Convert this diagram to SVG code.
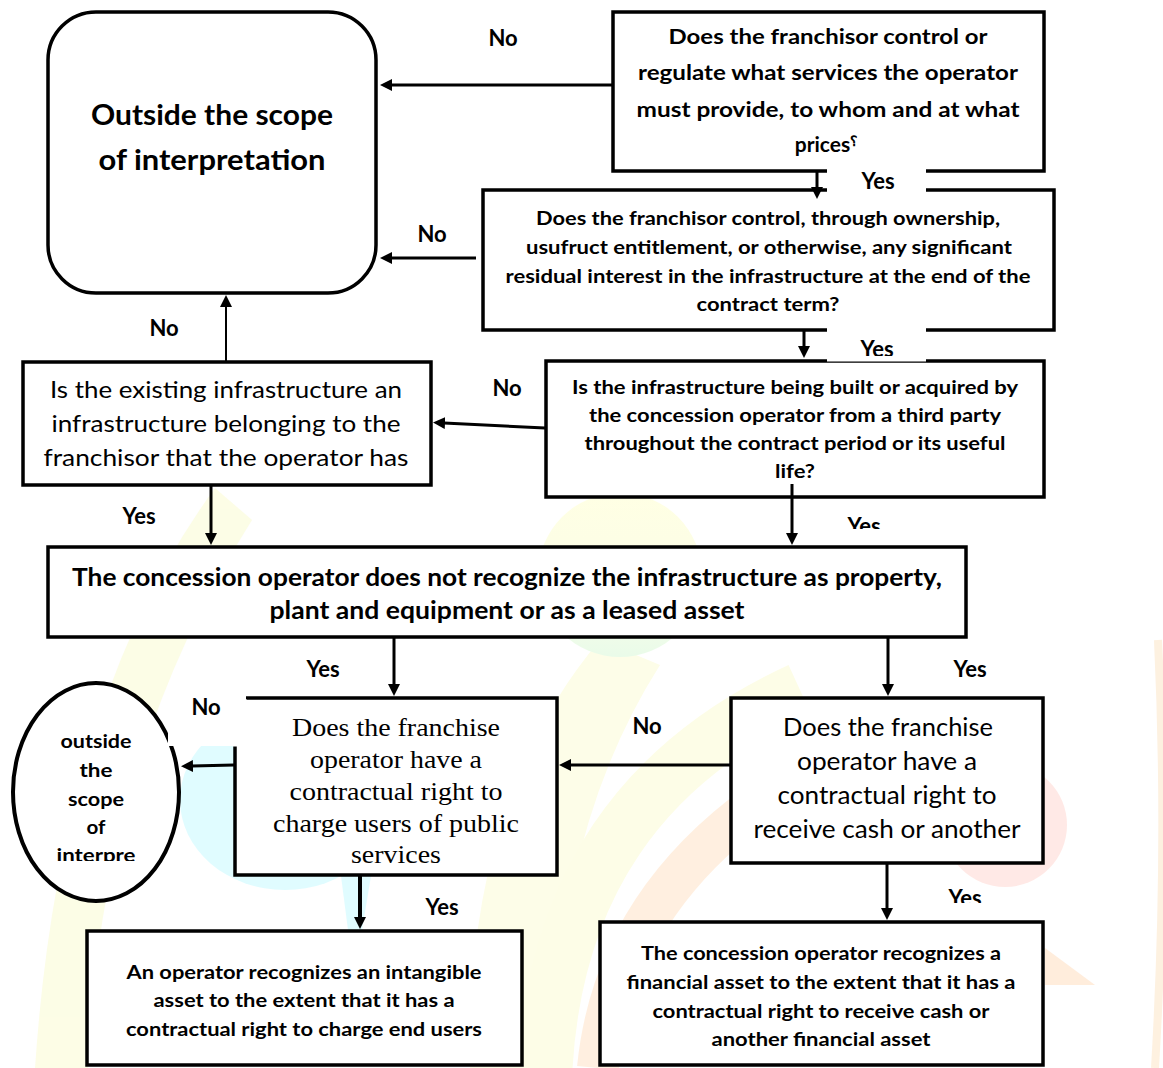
<svg xmlns="http://www.w3.org/2000/svg" width="1163" height="1068" viewBox="0 0 1163 1068">
<defs>
<style>
.box{fill:#fff;stroke:#000;stroke-width:3.5}
.conn{stroke:#000;stroke-width:3;fill:none;marker-end:url(#ah)}
.t{font-family:Lato,"Liberation Sans",sans-serif;text-anchor:middle;fill:#000}
.b{font-weight:bold}
.s{font-family:"Liberation Serif",serif;text-anchor:middle;fill:#000}
.lbl{font-family:Lato,"Liberation Sans",sans-serif;font-weight:bold;font-size:22px;text-anchor:middle;fill:#000}
.mask{fill:#fff;stroke:none}
</style>
<marker id="ah" markerWidth="12" markerHeight="12" refX="1" refY="6" orient="auto" markerUnits="userSpaceOnUse">
<path d="M0,0 L12,6 L0,12 Z" fill="#000"/>
</marker>
<linearGradient id="yg" x1="0" y1="0" x2="0" y2="1">
<stop offset="0" stop-color="#ffffd2"/>
<stop offset="0.55" stop-color="#fbfdd8"/>
<stop offset="1" stop-color="#dcfadc"/>
</linearGradient>
<clipPath id="c1"><rect x="820" y="330" width="110" height="26"/></clipPath>
<clipPath id="c2"><rect x="820" y="500" width="100" height="29"/></clipPath>
<clipPath id="c3"><rect x="920" y="880" width="100" height="23"/></clipPath>
<clipPath id="c4"><rect x="0" y="680" width="200" height="181"/></clipPath>
</defs>
<rect width="1163" height="1068" fill="#fff"/>

<g id="watermark" opacity="0.6">
<path d="M215,488 Q60,700 35,1068 L88,1068 Q100,760 252,520 Z" fill="#fbfcd6"/>
<path d="M600,640 Q465,800 470,1068 L555,1068 Q555,830 660,665 Z" fill="#fdfdd9"/>
<path d="M545,1068 Q560,800 800,690" stroke="#fdfdd8" stroke-width="55" fill="none"/>
<path d="M598,1068 Q620,850 880,735" stroke="#ffe6cc" stroke-width="42" fill="none"/>
<circle cx="620" cy="575" r="82" fill="url(#yg)"/>
<ellipse cx="285" cy="800" rx="105" ry="90" fill="#cdfbff"/>
<polygon points="341,876 371,876 362,930 348,930" fill="#cdfbff"/>
<circle cx="1005" cy="825" r="62" fill="#ffdcd6"/>
<polygon points="1045,948 1095,985 1045,985" fill="#ffe2c6"/>
<path d="M1158,640 Q1168,850 1155,1068" stroke="#fde8cc" stroke-width="8" fill="none"/>
</g>

<g id="node-outside">
<rect class="box" x="48" y="12" width="328" height="281" rx="48"/>
<text class="t b" font-size="28" x="212" y="125" textLength="242" lengthAdjust="spacingAndGlyphs">Outside the scope</text>
<text class="t b" font-size="28" x="212" y="170" textLength="227" lengthAdjust="spacingAndGlyphs">of interpretation</text>
</g>

<g id="node-q1">
<rect class="box" x="613" y="12" width="431" height="159"/>
<text class="t b" font-size="21" x="828" y="44" textLength="319" lengthAdjust="spacingAndGlyphs">Does the franchisor control or</text>
<text class="t b" font-size="21" x="828" y="80" textLength="380" lengthAdjust="spacingAndGlyphs">regulate what services the operator</text>
<text class="t b" font-size="21" x="828" y="117" textLength="383" lengthAdjust="spacingAndGlyphs">must provide, to whom and at what</text>
<text class="t b" font-size="21" x="826" y="152">prices<tspan font-size="14" dy="-6">؟</tspan></text>
</g>

<g id="node-q2">
<rect class="box" x="483" y="190" width="571" height="140"/>
<text class="t b" font-size="19" x="768" y="225" textLength="464" lengthAdjust="spacingAndGlyphs">Does the franchisor control, through ownership,</text>
<text class="t b" font-size="19" x="769" y="254" textLength="486" lengthAdjust="spacingAndGlyphs">usufruct entitlement, or otherwise, any significant</text>
<text class="t b" font-size="19" x="768" y="283" textLength="525" lengthAdjust="spacingAndGlyphs">residual interest in the infrastructure at the end of the</text>
<text class="t b" font-size="19" x="768" y="311" textLength="143" lengthAdjust="spacingAndGlyphs">contract term?</text>
</g>

<g id="node-q3">
<rect class="box" x="546" y="361" width="498" height="136"/>
<text class="t b" font-size="19" x="795" y="394" textLength="446" lengthAdjust="spacingAndGlyphs">Is the infrastructure being built or acquired by</text>
<text class="t b" font-size="19" x="795" y="422" textLength="412" lengthAdjust="spacingAndGlyphs">the concession operator from a third party</text>
<text class="t b" font-size="19" x="795" y="450" textLength="421" lengthAdjust="spacingAndGlyphs">throughout the contract period or its useful</text>
<text class="t b" font-size="19" x="795" y="478" textLength="40" lengthAdjust="spacingAndGlyphs">life?</text>
</g>

<g id="node-q4">
<rect class="box" x="23" y="362" width="408" height="123"/>
<text class="t" font-size="24" x="226" y="398" textLength="352" lengthAdjust="spacingAndGlyphs">Is the existing infrastructure an</text>
<text class="t" font-size="24" x="226" y="432" textLength="349" lengthAdjust="spacingAndGlyphs">infrastructure belonging to the</text>
<text class="t" font-size="24" x="226" y="466" textLength="365" lengthAdjust="spacingAndGlyphs">franchisor that the operator has</text>
</g>

<g id="node-notppe">
<rect class="box" x="48" y="547" width="918" height="90"/>
<text class="t b" font-size="24" x="507" y="586" textLength="870" lengthAdjust="spacingAndGlyphs">The concession operator does not recognize the infrastructure as property,</text>
<text class="t b" font-size="24" x="507" y="619" textLength="475" lengthAdjust="spacingAndGlyphs">plant and equipment or as a leased asset</text>
</g>

<g id="node-q5">
<rect class="box" x="235" y="698" width="322" height="177"/>
<text class="s" font-size="26" x="396" y="736" textLength="208" lengthAdjust="spacingAndGlyphs">Does the franchise</text>
<text class="s" font-size="26" x="396" y="768" textLength="172" lengthAdjust="spacingAndGlyphs">operator have a</text>
<text class="s" font-size="26" x="396" y="800" textLength="213" lengthAdjust="spacingAndGlyphs">contractual right to</text>
<text class="s" font-size="26" x="396" y="832" textLength="246" lengthAdjust="spacingAndGlyphs">charge users of public</text>
<text class="s" font-size="26" x="396" y="863" textLength="90" lengthAdjust="spacingAndGlyphs">services</text>
</g>

<g id="node-q6">
<rect class="box" x="731" y="698" width="312" height="165"/>
<text class="t" font-size="25" x="888" y="736" textLength="210" lengthAdjust="spacingAndGlyphs">Does the franchise</text>
<text class="t" font-size="25" x="887" y="770" textLength="180" lengthAdjust="spacingAndGlyphs">operator have a</text>
<text class="t" font-size="25" x="887" y="804" textLength="219" lengthAdjust="spacingAndGlyphs">contractual right to</text>
<text class="t" font-size="25" x="887" y="838" textLength="267" lengthAdjust="spacingAndGlyphs">receive cash or another</text>
</g>

<g id="node-outside2">
<ellipse cx="96" cy="792" rx="83" ry="109" fill="#fff" stroke="#000" stroke-width="4"/>
<g clip-path="url(#c4)">
<text class="t b" font-size="19" x="96" y="748" textLength="71" lengthAdjust="spacingAndGlyphs">outside</text>
<text class="t b" font-size="19" x="96" y="777" textLength="33" lengthAdjust="spacingAndGlyphs">the</text>
<text class="t b" font-size="19" x="96" y="806" textLength="56" lengthAdjust="spacingAndGlyphs">scope</text>
<text class="t b" font-size="19" x="96" y="834" textLength="19" lengthAdjust="spacingAndGlyphs">of</text>
<text class="t b" font-size="19" x="96" y="862" textLength="79" lengthAdjust="spacingAndGlyphs">interpre</text>
</g>
</g>

<g id="node-intangible">
<rect class="box" x="87" y="931" width="435" height="134"/>
<text class="t b" font-size="19" x="304" y="979" textLength="355" lengthAdjust="spacingAndGlyphs">An operator recognizes an intangible</text>
<text class="t b" font-size="19" x="304" y="1007" textLength="301" lengthAdjust="spacingAndGlyphs">asset to the extent that it has a</text>
<text class="t b" font-size="19" x="304" y="1036" textLength="356" lengthAdjust="spacingAndGlyphs">contractual right to charge end users</text>
</g>

<g id="node-financial">
<rect class="box" x="600" y="922" width="443" height="143"/>
<text class="t b" font-size="19" x="821" y="960" textLength="360" lengthAdjust="spacingAndGlyphs">The concession operator recognizes a</text>
<text class="t b" font-size="19" x="821" y="989" textLength="389" lengthAdjust="spacingAndGlyphs">financial asset to the extent that it has a</text>
<text class="t b" font-size="19" x="821" y="1018" textLength="337" lengthAdjust="spacingAndGlyphs">contractual right to receive cash or</text>
<text class="t b" font-size="19" x="821" y="1046" textLength="219" lengthAdjust="spacingAndGlyphs">another financial asset</text>
</g>

<g id="connectors">
<path class="conn" d="M612,85 L391,85"/>
<path class="conn" d="M476,258 L391,258"/>
<path class="conn" d="M817,171 L817,188"/>
<path class="conn" d="M804,331 L804,347"/>
<path class="conn" d="M545,428 L444,423"/>
<path class="conn" d="M226,361 L226,306" style="stroke-width:2"/>
<path class="conn" d="M211,486 L211,534"/>
<path class="conn" d="M792,484 L792,534"/>
<path class="conn" d="M394,638 L394,685"/>
<path class="conn" d="M888,638 L888,685"/>
<path class="conn" d="M234,765 L192,766"/>
<path class="conn" d="M730,765 L570,765"/>
<path class="conn" d="M360,876 L360,918" style="stroke-width:4"/>
<path class="conn" d="M887,863 L887,909"/>
</g>

<g id="labels">
<rect class="mask" x="827" y="169" width="99" height="24"/>
<rect class="mask" x="827" y="328" width="99" height="33.5"/>
<rect class="mask" x="480" y="362.5" width="64" height="48"/>
<rect class="mask" x="168" y="683" width="78" height="63"/>
<rect class="mask" x="233" y="699.5" width="14" height="47"/>
<text class="lbl" x="503" y="46">No</text>
<text class="lbl" x="878" y="189">Yes</text>
<text class="lbl" x="432" y="242">No</text>
<text class="lbl" x="877" y="357" clip-path="url(#c1)">Yes</text>
<text class="lbl" x="164" y="336">No</text>
<text class="lbl" x="507" y="396">No</text>
<text class="lbl" x="139" y="524">Yes</text>
<text class="lbl" x="864" y="534" clip-path="url(#c2)">Yes</text>
<text class="lbl" x="323" y="677">Yes</text>
<text class="lbl" x="970" y="677">Yes</text>
<text class="lbl" x="206" y="715">No</text>
<text class="lbl" x="647" y="734">No</text>
<text class="lbl" x="442" y="915">Yes</text>
<text class="lbl" x="965" y="906" clip-path="url(#c3)">Yes</text>
</g>
</svg>
